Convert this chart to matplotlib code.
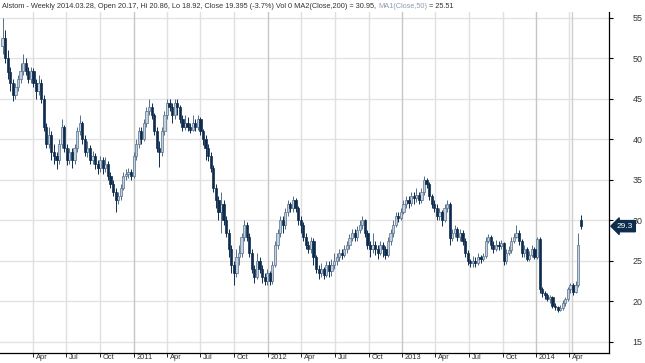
import pandas as pd
import matplotlib
matplotlib.use("Agg")
import matplotlib.pyplot as plt
import matplotlib.dates as mdates
from matplotlib.transforms import ScaledTranslation

# weekly candles, first bar = week ending 2010-01-08
first_week = "2010-01-08"
first_open = 51.5
gap_opens = {225: 30.0}   # weeks that did not open at the previous close

close = [52.5, 50, 48.3, 47, 45.5, 46.5, 47.5, 48.5, 49.5, 48.5,
         47.5, 48.5, 47, 46, 47, 45, 41.5, 39.5, 40.5, 38.5,
         38, 37.5, 39.5, 41.5, 39, 37.5, 38.5, 37.5, 39, 41,
         42, 40, 38.5, 39, 37.5, 38, 37, 36.5, 37.5, 36.5,
         37, 35.5, 34.5, 33.5, 32.5, 33, 34, 35.5, 35.8, 36,
         35.5, 38, 39.5, 41, 40, 42, 43.5, 44, 43, 41,
         39, 38.5, 41, 43, 44.5, 44, 43, 44.5, 44, 42.5,
         41.5, 42, 41.5, 41.2, 42, 41.5, 42.5, 41, 40, 39,
         38, 36.5, 34, 32.5, 31, 32, 30, 28.5, 26.5, 24.5,
         23.5, 25.5, 26, 28, 29.5, 28, 26, 24, 23, 25,
         24, 23, 22.5, 23.5, 22.5, 24.5, 27, 28.5, 30, 29.5,
         31, 32, 31.5, 32.5, 31.5, 30, 29.5, 28, 27, 26.5,
         27.5, 25.5, 24, 23.5, 24, 23.3, 24.5, 23.8, 24.5, 25,
         25.5, 26, 25.8, 26.5, 27, 27.8, 28.5, 28, 28.8, 29.5,
         30, 28.5, 27, 26.5, 27, 26.5, 26, 27, 26.5, 25.8,
         27.5, 28.5, 29.5, 30.5, 30.3, 31, 32, 32.5, 32.2, 33,
         32.8, 33.2, 32.5, 33.5, 35, 34.5, 33, 32, 31.5, 30.5,
         31, 30, 31.5, 32, 27.8, 28.5, 29, 28, 28.5, 27.5,
         26, 25, 24.8, 25, 24.8, 25.5, 25.2, 25.6, 27.5, 28,
         27, 26.5, 27, 26.8, 27.2, 25, 26, 26.3, 27.5, 28,
         28.5, 27.5, 26, 26.5, 25.3, 25.8, 26.5, 25.5, 27.7, 21.5,
         21, 20.8, 20.3, 20.5, 19.5, 19.3, 19, 19.2, 19.8, 20.3,
         21.5, 22, 21.2, 22, 27, 29.3]

high = [55, 53.5, 51, 49, 47.5, 47, 48, 49.5, 50.5, 50,
        49, 49, 48.8, 47.5, 48, 47.5, 45.5, 42, 41.5, 41,
        39.5, 38.5, 40, 42.5, 41.8, 39.5, 39, 39, 39.5, 41.5,
        43, 42.3, 40.5, 39.8, 39.3, 38.6, 38.3, 37.5, 38, 37.8,
        37.8, 37.3, 36, 35, 34, 33.5, 34.5, 36, 36.3, 36.5,
        36.4, 38.5, 40, 41.5, 41.5, 42.5, 44, 45, 44.5, 43.3,
        41.5, 39.8, 41.5, 43.5, 45, 45, 44.5, 45, 45, 44.3,
        43, 43, 42.8, 42, 43, 42.5, 43, 42.8, 41.3, 40.5,
        39.5, 38.5, 36.8, 34.5, 33, 33.5, 32.5, 30.5, 29, 27,
        25, 26.5, 27, 28.5, 30, 29.8, 28.5, 26.5, 24.5, 26,
        25.5, 24.5, 23.5, 24, 23.8, 25, 27.5, 29, 30.5, 30.5,
        31.5, 32.5, 32.3, 33, 32.8, 31.8, 30.5, 29.8, 28.5, 27.5,
        28, 27.8, 25.8, 24.5, 24.8, 24.3, 25, 25, 25.2, 26,
        26, 26.5, 26.5, 27, 27.5, 28.3, 29, 29, 29.3, 30,
        30.5, 30.2, 28.8, 27.5, 28.5, 27.5, 27, 27.5, 27.3, 26.8,
        28, 29, 30, 31, 31, 31.5, 32.5, 33, 33, 33.5,
        33.5, 34, 33.5, 34, 35.5, 35.3, 34.8, 33.3, 32.5, 32,
        31.5, 31.3, 32, 32.5, 32.3, 29, 29.5, 29.2, 29, 28.8,
        27.8, 26.3, 25.3, 25.6, 25.5, 26, 25.8, 26, 28, 28.3,
        28.2, 27.5, 27.6, 27.5, 27.6, 27.4, 26.5, 26.8, 28, 28.5,
        29.5, 28.8, 27.7, 27, 26.7, 26.2, 27, 26.7, 28, 27.9,
        21.8, 21.3, 21, 20.8, 20.7, 19.8, 19.5, 19.6, 20.2, 20.6,
        21.8, 22.3, 22.3, 22.5, 28.5, 30.7]

low = [50.5, 49.5, 47.5, 46, 44.8, 45, 46, 47, 48, 48,
       47, 47, 46.5, 45, 45.5, 44.5, 41, 39, 39, 37.5,
       37, 36.3, 37, 39, 38.5, 36.8, 37, 36.5, 37, 38.5,
       40.5, 39.5, 38, 37.8, 37, 37, 36.3, 35.8, 36, 35.8,
       36, 35, 34, 33, 31, 32, 32.5, 33.8, 35, 35.3,
       35, 35.2, 37.5, 39, 39.5, 39.8, 41.5, 43, 42.5, 40.5,
       38.5, 36.6, 38, 40.5, 42.5, 43.5, 42, 42.5, 43, 42,
       41, 41.2, 41, 40.8, 41, 41, 41.2, 40.5, 39.3, 37.5,
       37.3, 36, 33.5, 31.5, 30, 28.5, 29.5, 28, 25.5, 23.5,
       22, 23, 24.5, 25.5, 27.5, 27.5, 25.5, 23.5, 22.3, 22.8,
       23.5, 22.3, 22, 22, 22, 22.2, 24.2, 26.5, 28, 28.5,
       29, 30.5, 31, 31, 31, 29.5, 28.5, 27.5, 26.5, 26,
       26, 24.5, 23.5, 22.8, 23, 22.8, 23, 23, 23.2, 24,
       24.5, 25, 25.2, 25.5, 26, 26.5, 27.5, 27.5, 27.5, 28.5,
       29, 28, 26.5, 25.5, 26, 25.8, 25.2, 25.8, 25.5, 25.2,
       25.5, 27, 28, 29.2, 29.8, 30, 30.8, 31.5, 31.5, 31.8,
       32, 32.3, 32, 32.2, 33.2, 34, 32.5, 31.5, 31, 30,
       30, 29.3, 29.8, 31, 27, 27.5, 28, 27.5, 27.5, 27,
       25.5, 24.5, 24.2, 24.2, 24.2, 24.5, 24.8, 25, 25.4, 27.2,
       26.5, 26, 26.2, 26.3, 26.5, 24.5, 24.6, 25.8, 26, 27.2,
       27.8, 27, 25.5, 25.5, 25, 25, 25.5, 25.2, 25.2, 21,
       20.5, 20.3, 20, 19.8, 19.2, 19, 18.7, 18.8, 18.9, 19.5,
       20, 21, 20.8, 21, 21.8, 29]

tick_dates = ["2010-04-01", "2010-07-01", "2010-10-01", "2011-01-01",
              "2011-04-01", "2011-07-01", "2011-10-01", "2012-01-01",
              "2012-04-01", "2012-07-01", "2012-10-01", "2013-01-01",
              "2013-04-01", "2013-07-01", "2013-10-01", "2014-01-01",
              "2014-04-01"]
tick_labels = ["Apr", "Jul", "Oct", "2011", "Apr", "Jul", "Oct", "2012",
               "Apr", "Jul", "Oct", "2013", "Apr", "Jul", "Oct", "2014", "Apr"]
price_ticks = [15, 20, 25, 30, 35, 40, 45, 50, 55]
last_price = 29.3

DOWN = "#0e2c4e"
UP_FILL = "#c4d0dc"
UP_EDGE = "#55708d"
TXT = "#333333"

opens = [first_open] + close[:-1]
for k, v in gap_opens.items():
    opens[k] = v

df = pd.DataFrame({"open": opens, "high": high, "low": low, "close": close})
df["date"] = pd.date_range(first_week, periods=len(df), freq="7D")
df["x"] = mdates.date2num(df["date"])
up = df[df.close >= df.open]
dn = df[df.close < df.open]

plt.rcParams["font.family"] = ["Liberation Sans", "DejaVu Sans"]
fig = plt.figure(figsize=(6.45, 3.63), dpi=100)
ax = fig.add_axes([0, 10 / 363, 609 / 645, (353 - 12) / 363])

# grid
for p in price_ticks:
    ax.axhline(p, color="#e3e3e3", lw=1, zorder=0)
for d, lab in zip(tick_dates, tick_labels):
    c = "#c6c6c6" if lab.isdigit() else "#e0e0e0"
    ax.axvline(mdates.datestr2num(d), color=c, lw=1, zorder=0)
ax.axvline(mdates.datestr2num("2014-04-08"), color="#cfcfcf", lw=1, zorder=0)

# candles
w = 6.0
ax.vlines(up.x, up.low, up.high, color=UP_EDGE, lw=0.7, zorder=2)
ax.vlines(dn.x, dn.low, dn.high, color=DOWN, lw=0.7, zorder=2)
ax.bar(up.x, (up.close - up.open).clip(lower=0.15), bottom=up.open, width=w,
       color=UP_FILL, edgecolor=UP_EDGE, lw=0.5, zorder=3)
ax.bar(dn.x, (dn.open - dn.close).clip(lower=0.15), bottom=dn.close, width=w,
       color=DOWN, edgecolor=DOWN, lw=0.5, zorder=3)

ax.set_xlim(mdates.datestr2num("2010-01-01"), mdates.datestr2num("2014-07-18"))
ax.set_ylim(13.64, 55.74)

for s in ["top", "left"]:
    ax.spines[s].set_visible(False)
ax.spines["right"].set_color("black")
ax.spines["bottom"].set_color("black")
ax.spines["right"].set_linewidth(0.9)
ax.spines["bottom"].set_linewidth(0.9)

ax.yaxis.tick_right()
ax.set_yticks(price_ticks)
ax.set_yticklabels([str(p) for p in price_ticks])
ax.tick_params(axis="y", direction="out", length=3, width=0.8, pad=14,
               labelsize=6.4, labelcolor=TXT)

ax.set_xticks([mdates.datestr2num(d) for d in tick_dates])
ax.set_xticklabels(tick_labels)
ax.tick_params(axis="x", direction="out", length=3, width=0.6, pad=-2,
               labelsize=5.4, labelcolor=TXT)
off = ScaledTranslation(2 / 72, 0, fig.dpi_scale_trans)
for t in ax.get_xticklabels():
    t.set_horizontalalignment("left")
    t.set_transform(t.get_transform() + off)

# title
t1 = fig.text(2 / 645, 1 - 6 / 363,
              "Alstom - Weekly 2014.03.28, Open 20.17, Hi 20.86, Lo 18.92, "
              "Close 19.395 (-3.7%) Vol 0 MA2(Close,200) = 30.95, ",
              fontsize=5.3, color=TXT, va="center")
t2 = ax.annotate("MA1(Close,50)", xy=(1, 0.5), xycoords=t1, va="center",
                 fontsize=5.3, color="#8d9db0", annotation_clip=False)
ax.annotate(" = 25.51", xy=(1, 0.5), xycoords=t2, va="center",
            fontsize=5.3, color=TXT, annotation_clip=False)

# last price tag
ax.annotate(f"{last_price}", xy=(1, last_price), xycoords=("axes fraction", "data"),
            xytext=(8, 0), textcoords="offset pixels", ha="left", va="center",
            fontsize=6.0, color="white", annotation_clip=False,
            bbox=dict(boxstyle="larrow,pad=0.25", fc=DOWN, ec=DOWN))

fig.savefig("out.png", dpi=100)
